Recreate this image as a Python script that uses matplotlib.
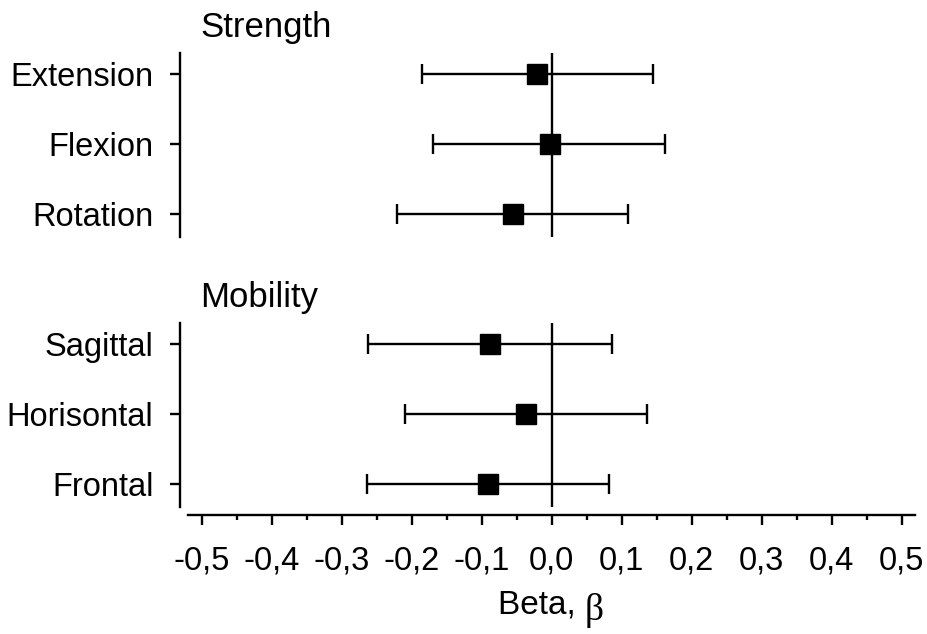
import numpy as np
import matplotlib
matplotlib.use("Agg")
import matplotlib.pyplot as plt

plt.rcParams['font.family'] = ['Liberation Sans', 'DejaVu Sans']

labels_strength = ["Extension", "Flexion", "Rotation"]
beta_strength = [-0.021, -0.002, -0.056]
lo_strength = [-0.186, -0.169, -0.221]
hi_strength = [0.145, 0.162, 0.109]

labels_mobility = ["Sagittal", "Horisontal", "Frontal"]
beta_mobility = [-0.088, -0.037, -0.091]
lo_mobility = [-0.262, -0.209, -0.264]
hi_mobility = [0.086, 0.136, 0.082]

xticks = [-0.5, -0.4, -0.3, -0.2, -0.1, 0.0, 0.1, 0.2, 0.3, 0.4, 0.5]

W, H = 927, 634
fig = plt.figure(figsize=(W / 100, H / 100), dpi=100)


def rect(left, top, right, bottom):
    # pixel box (from top-left) -> figure fraction
    return [left / W, 1 - bottom / H, (right - left) / W, (bottom - top) / H]


LW = 1.7
FS = 23.5


def panel(box, labels, beta, lo, hi, title):
    ax = fig.add_axes(rect(*box))
    beta = np.array(beta)
    err = [beta - np.array(lo), np.array(hi) - beta]
    y = np.arange(len(labels))
    ax.axvline(0, color='k', lw=LW, zorder=1)
    ax.errorbar(beta, y, xerr=err, fmt='s', color='k', ms=14,
                elinewidth=LW, capsize=7.5, capthick=LW, zorder=3)
    ax.set_xlim(-0.531, 0.519)
    ax.set_ylim(len(labels) - 1 + 0.33, -0.3)
    ax.set_yticks(y)
    ax.set_yticklabels(labels)
    ax.set_xticks([])
    for s in ['top', 'right', 'bottom']:
        ax.spines[s].set_visible(False)
    ax.spines['left'].set_linewidth(LW)
    ax.tick_params(axis='y', length=7.2, width=LW, pad=12, labelsize=FS)
    fig.text(200 / W, 1 - (box[1] - 16) / H, title, fontsize=25,
             va='baseline', ha='left')
    return ax


panel((180, 53, 915, 237), labels_strength, beta_strength, lo_strength,
      hi_strength, "Strength")
panel((180, 323, 915, 507), labels_mobility, beta_mobility, lo_mobility,
      hi_mobility, "Mobility")

# shared x axis strip
axx = fig.add_axes(rect(188, 514, 915, 515))
axx.set_xlim(-0.5196, 0.519)
axx.set_yticks([])
for s in ['top', 'right', 'left']:
    axx.spines[s].set_visible(False)
axx.spines['bottom'].set_linewidth(LW)
axx.patch.set_visible(False)
axx.set_xticks(xticks)
axx.set_xticklabels([f"{v:.1f}".replace('.', ',') for v in xticks])
axx.set_xticks(np.array(xticks[:-1]) + 0.05, minor=True)
axx.tick_params(axis='x', which='major', length=7.2, width=LW, pad=15,
                labelsize=FS)
axx.tick_params(axis='x', which='minor', length=3.6, width=LW)

t = fig.text(498 / W, 1 - 613 / H, "Beta, ", fontsize=24, ha='left',
             va='baseline')
axx.annotate("β", xy=(1, 0), xycoords=t, ha='left', va='baseline',
             fontsize=27, family='Liberation Serif')

fig.savefig("out.png", dpi=100)
